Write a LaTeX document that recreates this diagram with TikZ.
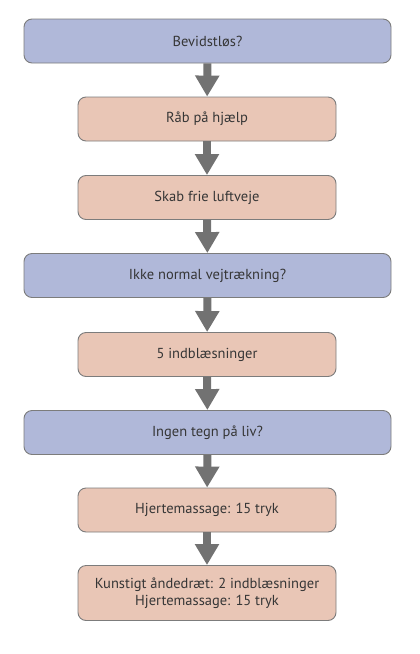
\documentclass[tikz,border=0pt]{standalone}
\usepackage{fontspec}
\setmainfont{PT Sans}
\usetikzlibrary{arrows.meta}
\definecolor{askblue}{HTML}{B0B8D9}
\definecolor{actsalmon}{HTML}{E9C6B6}
\definecolor{edgegray}{HTML}{7C7C7C}
\definecolor{arrowgray}{HTML}{727272}
\definecolor{textgray}{HTML}{363636}

\begin{document}
\begin{tikzpicture}[x=1pt,y=-1pt]
	\path [use as bounding box] (0,0) rectangle (420,654);
	\tikzstyle{box} = [draw=edgegray, line width=0.9pt, rounded corners=8pt, align=center,
		text=textgray, font=\fontsize{14.5}{17}\selectfont, inner sep=0pt]
	\tikzstyle{ask} = [box, fill=askblue, minimum width=367pt, minimum height=44pt]
	\tikzstyle{act} = [box, fill=actsalmon, minimum width=258pt, minimum height=44pt]
	\tikzstyle{flow} = [arrowgray, line width=8pt, -{Triangle[width=23pt,length=21pt]}]
	\node[ask] (unconscious) at (207.5,41) {Bevidstløs?};
	\node[act] (help) at (207,119) {Råb på hjælp};
	\node[act] (airway) at (207,197.5) {Skab frie luftveje};
	\node[ask] (breathing) at (207.5,275.5) {Ikke normal vejtrækning?};
	\node[act] (breaths) at (207,354.5) {5 indblæsninger};
	\node[ask] (signs) at (207.5,432.5) {Ingen tegn på liv?};
	\node[act] (massage) at (207,510) {Hjertemassage: 15 tryk};
	\node[act, minimum height=55pt] (cycle) at (207,593)
		{Kunstigt åndedræt: 2 indblæsninger\\Hjertemassage: 15 tryk};
	\draw[flow] (unconscious) -- (help);
	\draw[flow] (help) -- (airway);
	\draw[flow] (airway) -- (breathing);
	\draw[flow] (breathing) -- (breaths);
	\draw[flow] (breaths) -- (signs);
	\draw[flow] (signs) -- (massage);
	\draw[flow] (massage) -- (cycle);
\end{tikzpicture}
\end{document}
